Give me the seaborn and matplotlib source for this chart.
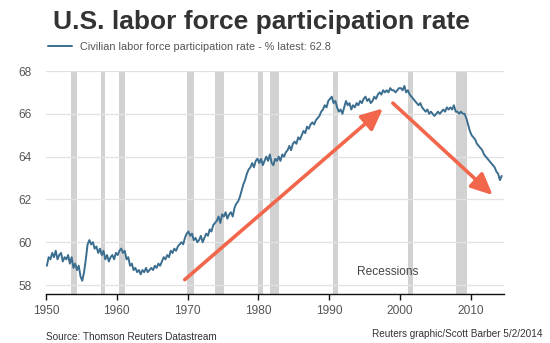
import matplotlib
matplotlib.use("Agg")
import numpy as np
import pandas as pd
import matplotlib.pyplot as plt
import seaborn as sns

# ---- data (quarterly estimates, %) ----
rate_1950s = [58.9, 59.3, 59.2, 59.5, 59.3, 59.6, 59.2, 59.4, 59.5, 59.1, 59.3, 59.2,
              59.4, 59.0, 59.3, 58.8, 59.0, 58.7, 58.9, 58.4, 58.2, 58.6, 59.2, 59.9,
              60.1, 59.9, 60.0, 59.7, 59.8, 59.5, 59.7, 59.4, 59.6, 59.2, 59.4, 59.1,
              59.3, 59.4, 59.2, 59.5]
rate_1960s = [59.4, 59.6, 59.7, 59.5, 59.6, 59.2, 59.3, 58.9, 59.0, 58.7, 58.8, 58.6,
              58.7, 58.5, 58.7, 58.6, 58.8, 58.6, 58.7, 58.8, 58.7, 58.9, 58.8, 59.0,
              58.9, 59.1, 59.3, 59.2, 59.4, 59.3, 59.6, 59.5, 59.7, 59.6, 59.8, 59.9,
              60.0, 59.9, 60.2, 60.4]
rate_1970s = [60.5, 60.3, 60.4, 60.1, 60.2, 60.0, 60.1, 60.3, 60.0, 60.2, 60.4, 60.3,
              60.6, 60.5, 60.8, 60.9, 61.0, 61.2, 60.9, 61.3, 61.2, 61.4, 61.1, 61.3,
              61.4, 61.2, 61.6, 61.8, 61.9, 62.1, 62.4, 62.7, 62.9, 63.2, 63.4, 63.5,
              63.7, 63.5, 63.8, 63.9]
rate_1980s = [63.7, 63.9, 63.6, 63.8, 64.0, 63.8, 64.1, 63.7, 63.6, 63.9, 63.8, 64.0,
              63.8, 64.1, 64.0, 64.2, 64.3, 64.5, 64.3, 64.6, 64.7, 64.6, 64.9, 64.8,
              65.0, 65.2, 65.1, 65.4, 65.3, 65.5, 65.6, 65.5, 65.7, 65.8, 65.9, 66.1,
              66.2, 66.4, 66.3, 66.6]
rate_1990s = [66.7, 66.8, 66.5, 66.6, 66.3, 66.1, 66.2, 66.0, 66.3, 66.6, 66.4, 66.5,
              66.2, 66.4, 66.3, 66.5, 66.4, 66.6, 66.5, 66.7, 66.8, 66.6, 66.7, 66.5,
              66.6, 66.8, 66.7, 66.9, 67.0, 66.9, 67.1, 67.0, 67.1, 67.0, 67.2, 67.1,
              67.1, 67.0, 67.1, 67.2]
rate_2000s = [67.2, 67.1, 67.3, 67.0, 67.1, 66.9, 66.8, 66.7, 66.6, 66.5, 66.4, 66.5,
              66.3, 66.2, 66.1, 66.2, 66.0, 66.1, 66.0, 65.9, 66.0, 66.1, 66.0, 66.1,
              66.2, 66.1, 66.3, 66.2, 66.3, 66.2, 66.4, 66.1, 66.1, 66.0, 66.1, 66.0,
              66.0, 65.8, 65.5, 65.2]
rate_2010s = [65.0, 64.9, 64.8, 64.6, 64.5, 64.4, 64.3, 64.1, 64.0, 63.9, 63.8, 63.7,
              63.6, 63.5, 63.3, 63.2, 62.9, 63.1]

recessions = [(1953.6, 1954.4), (1957.7, 1958.3), (1960.3, 1961.1), (1969.9, 1970.9),
              (1973.9, 1975.2), (1980.0, 1980.6), (1981.6, 1982.9), (1990.6, 1991.2),
              (2001.2, 2001.9), (2007.9, 2009.5)]

y_ticks = [58, 60, 62, 64, 66, 68]
x_ticks = [1950, 1960, 1970, 1980, 1990, 2000, 2010]

title = "U.S. labor force participation rate"
series_label = "Civilian labor force participation rate - % latest: 62.8"
source_text = "Source: Thomson Reuters Datastream"
credit_text = "Reuters graphic/Scott Barber 5/2/2014"
recession_label = "Recessions"

# annotation arrows (start, tip) in data coordinates
arrow_up = ((1969.6, 58.25), (1997.6, 66.25))
arrow_down = ((1999.0, 66.5), (2013.1, 62.2))

# ---- build table ----
values = rate_1950s + rate_1960s + rate_1970s + rate_1980s + rate_1990s + rate_2000s + rate_2010s
dates = [1950 + (i + 0.5) / 4 for i in range(len(values))]
df = pd.DataFrame({"year": dates, "rate": values})

sns.set_theme(style="white")
plt.rcParams["font.family"] = ["Liberation Sans", "DejaVu Sans"]

W, H = 550, 343
fig = plt.figure(figsize=(W / 100, H / 100), dpi=100)
fig.patch.set_facecolor("white")
ax = fig.add_axes([46 / W, 1 - 294 / H, 458 / W, 223 / H])

line_color = "#3b6e8f"
arrow_color = "#f2674c"

for s, e in recessions:
    ax.axvspan(s, e, color="#d2d2d2", lw=0, zorder=0.5)

sns.lineplot(data=df, x="year", y="rate", ax=ax, color=line_color, lw=1.4,
             label=series_label, zorder=3)

ax.set_xlim(1950, 2014.7)
ax.set_ylim(57.58, 68)
ax.set_yticks(y_ticks)
ax.set_xticks(x_ticks)
ax.yaxis.grid(True, color="#e2e2e2", lw=0.9, zorder=0)
ax.xaxis.grid(False)
ax.set_axisbelow(True)
ax.set_xlabel("")
ax.set_ylabel("")
for side in ["left", "right", "top"]:
    ax.spines[side].set_visible(False)
ax.spines["bottom"].set_color("#111111")
ax.spines["bottom"].set_linewidth(1.0)
ax.tick_params(axis="x", direction="out", length=4, width=1, color="#111111",
               labelsize=8.6, labelcolor="#555555", pad=4, bottom=True)
ax.tick_params(axis="y", length=0, labelsize=8.6, labelcolor="#555555", pad=10)

for (x0, y0), (x1, y1) in [arrow_up, arrow_down]:
    ax.annotate("", xy=(x1, y1), xytext=(x0, y0),
                arrowprops=dict(arrowstyle="-|>,head_length=1.3,head_width=0.6",
                                color=arrow_color, lw=2.6, shrinkA=0, shrinkB=0,
                                mutation_scale=10),
                zorder=4)

ax.text(1998.3, 58.6, recession_label, ha="center", va="center", fontsize=8.6,
        color="#444444")

leg = ax.legend(loc="center left", bbox_to_anchor=(48 / W, 1 - 47 / H),
                bbox_transform=fig.transFigure, frameon=False, fontsize=7.8,
                handlelength=2.25, handletextpad=0.75, borderaxespad=0, borderpad=0)
for t in leg.get_texts():
    t.set_color("#555555")

fig.text(261 / W, 1 - 22 / H, title, ha="center", va="center", fontsize=19,
         fontweight="bold", color="#333333")
fig.text(46 / W, 1 - 337 / H, source_text, ha="left", va="center", fontsize=7.2,
         color="#333333")
fig.text(543 / W, 1 - 334 / H, credit_text, ha="right", va="center", fontsize=7.2,
         color="#333333")

fig.savefig("out.png", dpi=100, facecolor="white")
